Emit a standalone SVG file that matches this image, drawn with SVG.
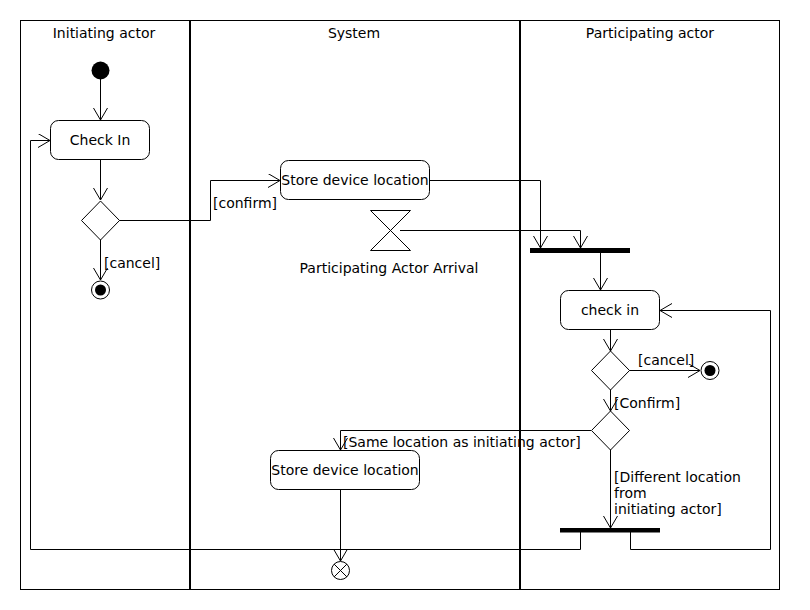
<svg xmlns="http://www.w3.org/2000/svg" width="810" height="610" viewBox="0 0 810 610">
<style>
text{font-family:"DejaVu Sans",sans-serif;font-size:14px;fill:#000}
.c{text-anchor:middle}
.node{fill:#fff;stroke:#000;stroke-width:1}
.edge{fill:none;stroke:#000;stroke-width:1}
.lane{stroke:#000;stroke-width:2}
</style>
<defs>
<marker id="arr" markerWidth="14" markerHeight="16" refX="12" refY="7" orient="auto" markerUnits="userSpaceOnUse">
<path d="M0,0 L12,7 L0,14" fill="none" stroke="#000" stroke-width="1"/>
</marker>
</defs>
<rect x="0" y="0" width="810" height="610" fill="#fff"/>
<g id="lanes">
<rect x="20.5" y="20.5" width="759" height="569" fill="none" stroke="#000" stroke-width="1"/>
<line class="lane" x1="190" y1="20" x2="190" y2="590"/>
<line class="lane" x1="520" y1="20" x2="520" y2="590"/>
<text class="c" x="104" y="38">Initiating actor</text>
<text class="c" x="354" y="38">System</text>
<text class="c" x="650" y="38">Participating actor</text>
</g>
<g id="edges">
<path class="edge" d="M100.5,79 L100.5,120" marker-end="url(#arr)"/>
<path class="edge" d="M100.5,159 L100.5,200" marker-end="url(#arr)"/>
<path class="edge" d="M100.5,239 L100.5,280" marker-end="url(#arr)"/>
<path class="edge" d="M119,220.5 L210.5,220.5 L210.5,180.5 L280,180.5" marker-end="url(#arr)"/>
<path class="edge" d="M430,180.5 L540.5,180.5 L540.5,248" marker-end="url(#arr)"/>
<path class="edge" d="M400,230.5 L580.5,230.5 L580.5,248" marker-end="url(#arr)"/>
<path class="edge" d="M600.5,253 L600.5,290" marker-end="url(#arr)"/>
<path class="edge" d="M610.5,329 L610.5,351" marker-end="url(#arr)"/>
<path class="edge" d="M629,370.5 L700,370.5" marker-end="url(#arr)"/>
<path class="edge" d="M610.5,389 L610.5,411" marker-end="url(#arr)"/>
<path class="edge" d="M591,430.5 L340.5,430.5 L340.5,450" marker-end="url(#arr)"/>
<path class="edge" d="M610.5,449 L610.5,528" marker-end="url(#arr)"/>
<path class="edge" d="M580.5,532 L580.5,549.5 L30.5,549.5 L30.5,140.5 L50,140.5" marker-end="url(#arr)"/>
<path class="edge" d="M630.5,532 L630.5,549.5 L770.5,549.5 L770.5,310.5 L660,310.5" marker-end="url(#arr)"/>
<path class="edge" d="M340.5,489 L340.5,561" marker-end="url(#arr)"/>
<text x="104" y="268">[cancel]</text>
<text x="213" y="208">[confirm]</text>
<text x="638" y="365">[cancel]</text>
<text x="614" y="408">[Confirm]</text>
<text x="343" y="447">[Same location as initiating actor]</text>
<text x="614" y="482">[Different location</text>
<text x="614" y="498">from</text>
<text x="614" y="514">initiating actor]</text>
</g>
<g id="start"><circle cx="100.5" cy="70.5" r="9" fill="#000"/></g>
<g id="checkin1"><rect class="node" x="50.5" y="120.5" width="99" height="39" rx="8"/><text class="c" x="100" y="145">Check In</text></g>
<g id="decision1"><path class="node" d="M100.5,201 L119.5,220.5 L100.5,240 L81.5,220.5 Z"/></g>
<g id="final1"><circle class="node" cx="100.5" cy="290" r="9"/><circle cx="100.5" cy="290" r="5.5" fill="#000"/></g>
<g id="store1"><rect class="node" x="280.5" y="160.5" width="149" height="39" rx="8"/><text class="c" x="355" y="185">Store device location</text></g>
<g id="timer"><path class="node" d="M370.5,210.5 L410.5,210.5 L370.5,250.5 L410.5,250.5 Z"/><text class="c" x="389" y="273">Participating Actor Arrival</text></g>
<g id="fork"><rect x="530" y="248" width="100" height="5" fill="#000"/></g>
<g id="checkin2"><rect class="node" x="560.5" y="290.5" width="99" height="39" rx="8"/><text class="c" x="610" y="315">check in</text></g>
<g id="decision2"><path class="node" d="M610.5,351 L629.5,370.5 L610.5,390 L591.5,370.5 Z"/></g>
<g id="final2"><circle class="node" cx="710" cy="370.5" r="9"/><circle cx="710" cy="370.5" r="5.5" fill="#000"/></g>
<g id="decision3"><path class="node" d="M610.5,411 L629.5,430.5 L610.5,450 L591.5,430.5 Z"/></g>
<g id="store2"><rect class="node" x="270.5" y="450.5" width="149" height="39" rx="8"/><text class="c" x="345" y="475">Store device location</text></g>
<g id="join"><rect x="560" y="528" width="100" height="4.5" fill="#000"/></g>
<g id="flowfinal"><circle class="node" cx="340.5" cy="570.5" r="9"/><path class="edge" d="M334.1,564.1 L346.9,576.9 M346.9,564.1 L334.1,576.9"/></g>
</svg>
